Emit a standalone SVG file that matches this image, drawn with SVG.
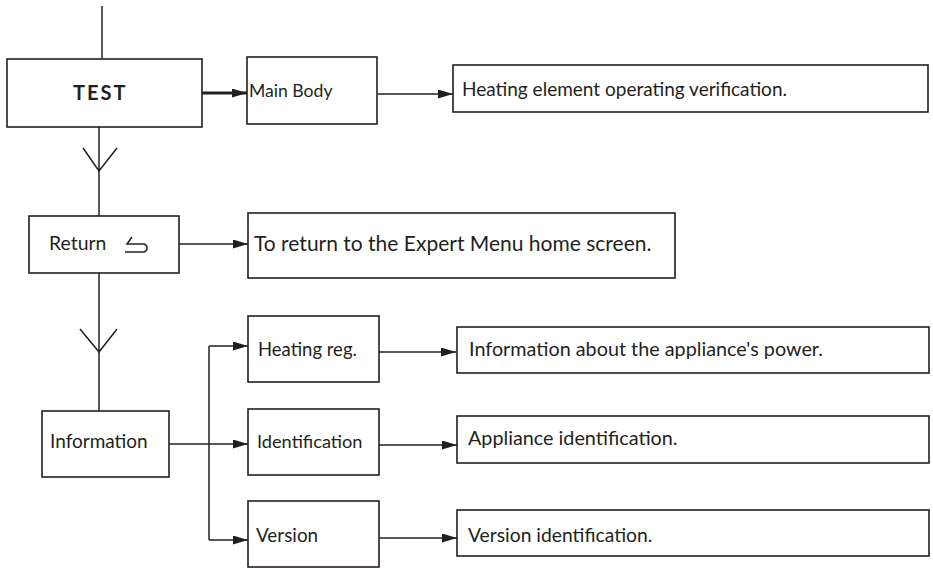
<svg xmlns="http://www.w3.org/2000/svg" width="933" height="568" viewBox="0 0 933 568">
<defs>
<marker id="ah" viewBox="0 0 15 9" refX="15" refY="4.5" markerWidth="15" markerHeight="9" markerUnits="userSpaceOnUse" orient="auto">
<path d="M0,0 L15,4.5 L0,9 Z" fill="#231f20"/>
</marker>
</defs>
<style>
.box{fill:#fff;stroke:#231f20;stroke-width:1.6}
.ln{fill:none;stroke:#231f20;stroke-width:1.5}
.ar{fill:none;stroke:#231f20;stroke-width:1.5;marker-end:url(#ah)}
.t{font-family:Lato,"Open Sans","Liberation Sans",sans-serif;font-size:19px;fill:#231f20}
.b{font-family:Lato,"Open Sans","Liberation Sans",sans-serif;font-size:20px;font-weight:bold;letter-spacing:2px;fill:#231f20}
</style>
<g id="connectors">
<path class="ln" d="M102,6 V59"/>
<path class="ln" d="M99,127 V216"/>
<path class="ln" d="M83,148 L99,171 L117,148"/>
<path class="ln" d="M99,273 V411"/>
<path class="ln" d="M80,329 L99,352 L117,329"/>
<path class="ar" style="stroke-width:3" d="M202,93 H247"/>
<path class="ar" d="M378,94 H453"/>
<path class="ar" d="M179,244 H248"/>
<path class="ar" d="M169,444 H248"/>
<path class="ln" d="M209,346 V540"/>
<path class="ar" d="M209,346 H248"/>
<path class="ar" d="M209,540 H248"/>
<path class="ar" d="M379,352 H456"/>
<path class="ar" d="M379,445 H457"/>
<path class="ar" d="M379,538 H457"/>
</g>
<g id="test"><rect class="box" x="7" y="59" width="195" height="68"/><text class="b" x="73" y="100">TEST</text></g>
<g id="mainbody"><rect class="box" x="247" y="57" width="130" height="67"/><text class="t" x="249" y="97" style="font-size:17.6px">Main Body</text></g>
<g id="heating-elem"><rect class="box" x="453" y="65" width="475" height="47"/><text class="t" x="462" y="96">Heating element operating verification.</text></g>
<g id="return"><rect class="box" x="29" y="216" width="150" height="57"/><text class="t" x="49" y="250" style="font-size:19.4px">Return</text>
<path class="ln" d="M132,237 L127,244 H143 Q147,244 147,248 Q147,252 143,252 H125"/></g>
<g id="return-desc"><rect class="box" x="248" y="213" width="427" height="65"/><text class="t" x="254" y="251" style="font-size:21px">To return to the Expert Menu home screen.</text></g>
<g id="information"><rect class="box" x="42" y="411" width="127" height="66"/><text class="t" x="50" y="448">Information</text></g>
<g id="heating-reg"><rect class="box" x="248" y="316" width="131" height="66"/><text class="t" x="258" y="356" style="font-size:18.5px">Heating reg.</text></g>
<g id="identification"><rect class="box" x="248" y="409" width="131" height="66"/><text class="t" x="257" y="448" style="font-size:18.2px">Identification</text></g>
<g id="version"><rect class="box" x="248" y="501" width="131" height="66"/><text class="t" x="256" y="542" style="font-size:18.9px">Version</text></g>
<g id="power"><rect class="box" x="457" y="327" width="472" height="46"/><text class="t" x="469" y="356" style="font-size:19.8px">Information about the appliance's power.</text></g>
<g id="appliance-id"><rect class="box" x="457" y="416" width="472" height="47"/><text class="t" x="468" y="445" style="font-size:19.8px">Appliance identification.</text></g>
<g id="version-id"><rect class="box" x="457" y="510" width="472" height="46"/><text class="t" x="468" y="542" style="font-size:19.3px">Version identification.</text></g>
</svg>
